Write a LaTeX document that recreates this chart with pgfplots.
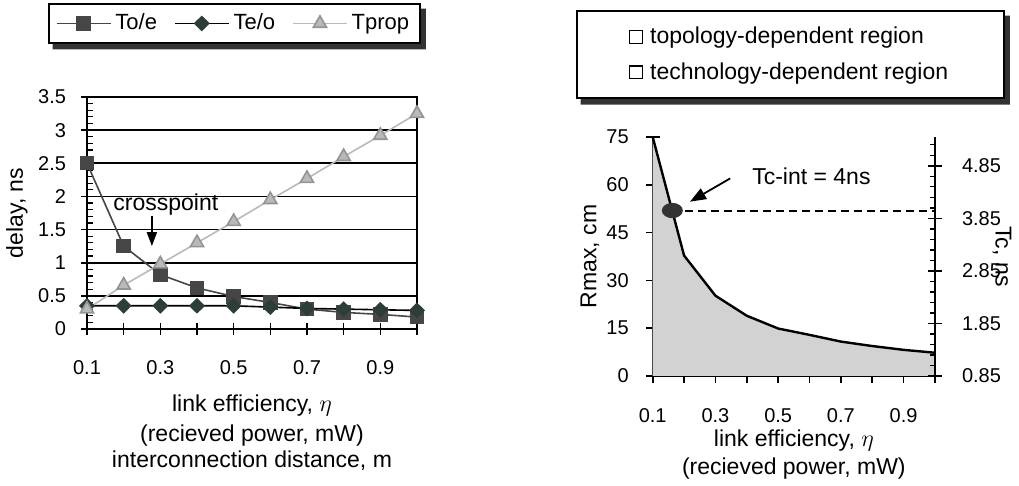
\documentclass[border=0pt]{standalone}
\usepackage{fontspec}
\setmainfont{Liberation Sans}
\usepackage{pgfplots}
\usepackage{pgfplotstable}
\pgfplotsset{compat=1.18}
\usetikzlibrary{arrows.meta}

\definecolor{oeDark}{RGB}{70,70,70}
\definecolor{eoDark}{RGB}{45,62,55}
\definecolor{propGray}{RGB}{185,185,185}
\definecolor{regionGray}{RGB}{210,210,210}

\newcommand{\labfont}{\fontsize{11.5}{13.5}\selectfont}
\newcommand{\tickfont}{\fontsize{10}{12}\selectfont}

% delay components versus link efficiency
\pgfplotstableread{
eta   Toe   Teo   Tprop
0.1   2.50  0.35  0.30
0.2   1.25  0.35  0.66
0.3   0.82  0.35  0.98
0.4   0.62  0.35  1.30
0.5   0.49  0.35  1.62
0.6   0.40  0.33  1.95
0.7   0.30  0.31  2.27
0.8   0.25  0.30  2.60
0.9   0.22  0.29  2.92
1.0   0.18  0.28  3.25
}\delaydata

% maximum interconnect length versus link efficiency
\pgfplotstableread{
eta   Rmax
0.1   75.0
0.2   37.8
0.3   25.2
0.4   18.9
0.5   14.9
0.6   12.9
0.7   10.8
0.8   9.4
0.9   8.2
1.0   7.3
}\rmaxdata

\pgfplotsset{
  chartbase/.style={
    scale only axis,
    axis line style={line width=0.9pt},
    every tick/.style={black,line width=0.8pt},
    tick label style={font=\tickfont},
    /pgf/number format/assume math mode=true,
    clip=false,
  },
  framebox/.style={draw=black, line width=0.9pt, fill=white},
}

% solid shadow along the right and bottom edges of a named box
\newcommand{\boxshadow}[1]{%
  \fill[black!80]
    ([xshift=2.4pt]#1.south west) -- ++(0,-2.8pt)
    -- ([xshift=2.4pt,yshift=-2.8pt]#1.south east)
    -- ([xshift=2.4pt,yshift=-2.8pt]#1.north east)
    -- ([yshift=-2.8pt]#1.north east)
    -- (#1.south east) -- cycle;}

\begin{document}
\begin{tikzpicture}
\path[use as bounding box] (0,0) rectangle (509.5pt,243pt);

% ---------------- left: delay ----------------
\begin{axis}[
  chartbase,
  at={(43.5pt,78.5pt)}, anchor=south west,
  width=165pt, height=116pt,
  xmin=0.1, xmax=1.0, ymin=0, ymax=3.5,
  xtick={0.1,0.2,0.3,0.4,0.5,0.6,0.7,0.8,0.9,1.0},
  xticklabels={0.1,,0.3,,0.5,,0.7,,0.9,},
  ytick={0,0.5,1,1.5,2,2.5,3,3.5},
  yticklabels={0,0.5,1,1.5,2,2.5,3,3.5},
  minor y tick num=4,
  xtick pos=left, ytick pos=left,
  tick align=center,
  major tick length=6pt, minor tick length=3pt,
  every minor tick/.append style={xshift=1.5pt, line width=0.6pt},
  xticklabel style={anchor=base, yshift=-20pt},
  yticklabel style={anchor=east, xshift=-4pt},
  ymajorgrids, major grid style={black, line width=0.9pt},
  legend columns=3,
  legend style={framebox, name=legL, at={(0.447,1.317)}, anchor=center,
    font=\fontsize{11}{13}\selectfont, inner xsep=3.5pt, inner ysep=3pt,
    /tikz/every even column/.append style={column sep=6.5pt}},
  legend image code/.code={
    \draw[mark repeat=2,mark phase=2,#1]
      plot coordinates {(0pt,0pt) (13.5pt,0pt) (27pt,0pt)};
  },
]
\addplot[oeDark, line width=0.8pt, mark=square*, mark size=3.2pt,
  mark options={solid, fill=oeDark, draw=oeDark}]
  table[x=eta, y=Toe]{\delaydata};
\addlegendentry{To/e}
\addplot[black, line width=0.8pt, mark=diamond*, mark size=3.4pt,
  mark options={solid, xscale=1.35, fill=eoDark, draw=eoDark}]
  table[x=eta, y=Teo]{\delaydata};
\addlegendentry{Te/o}
\addplot[propGray, line width=0.8pt, mark=triangle*, mark size=3.8pt,
  mark options={solid, fill=propGray, draw=propGray!80!black}]
  table[x=eta, y=Tprop]{\delaydata};
\addlegendentry{Tprop}

\node[font=\labfont, anchor=base] at (axis cs:0.315,1.785) {crosspoint};
\draw[-{Triangle[length=7pt,width=5pt]}, line width=0.8pt]
  (axis cs:0.277,1.70) -- (axis cs:0.277,1.25);

\node[font=\labfont, rotate=90, anchor=center, yshift=35pt] at (rel axis cs:0,0.5) {delay, ns};
\node[font=\labfont, anchor=base, yshift=-41.5pt] at (rel axis cs:0.5,0) {link efficiency, $\eta$};
\node[font=\labfont, anchor=base, yshift=-56.5pt] at (rel axis cs:0.5,0) {(recieved power, mW)};
\node[font=\labfont, anchor=base, yshift=-69.5pt] at (rel axis cs:0.5,0) {interconnection distance, m};
\end{axis}
\boxshadow{legL}

% ---------------- right: Rmax (left scale) ----------------
\begin{axis}[
  chartbase,
  at={(326.35pt,55pt)}, anchor=south west,
  width=141.15pt, height=119.5pt,
  xmin=0.1, xmax=1.0, ymin=0, ymax=75,
  axis x line*=bottom, axis y line*=left,
  xtick={0.1,0.2,0.3,0.4,0.5,0.6,0.7,0.8,0.9,1.0},
  xticklabels={0.1,,0.3,,0.5,,0.7,,0.9,},
  ytick={0,15,30,45,60,75},
  minor ytick={5,10,20,25,35,40,50,55,65,70},
  tick align=center,
  major tick length=7pt, minor tick length=2.6pt,
  every minor tick/.append style={xshift=1.3pt, line width=0.6pt},
  xticklabel style={anchor=base, yshift=-20pt},
  yticklabel style={anchor=east, xshift=-5pt},
  legend style={framebox, name=legR, at={(0.488,1.345)}, anchor=center,
    font=\labfont, inner xsep=26pt, inner ysep=6pt, row sep=4pt},
  legend cell align=left,
]
\addplot[draw=none, fill=regionGray, forget plot]
  table[x=eta, y=Rmax]{\rmaxdata} \closedcycle;
\addplot[black, line width=1.2pt, forget plot]
  table[x=eta, y=Rmax]{\rmaxdata};

\addlegendimage{legend image code/.code={
  \draw[black, fill=white, line width=0.6pt] (0pt,-3.2pt) rectangle (6.4pt,3.2pt);
  \path (8pt,0pt);}}
\addlegendentry{topology-dependent region}
\addlegendimage{legend image code/.code={
  \draw[black, fill=white, line width=0.6pt] (0pt,-3.2pt) rectangle (6.4pt,3.2pt);
  \path (8pt,0pt);}}
\addlegendentry{technology-dependent region}

\node[font=\labfont, anchor=base west] at (axis cs:0.395,60) {Tc-int = 4ns};
\draw[-{Triangle[length=8pt,width=6pt]}, line width=0.9pt]
  (axis cs:0.347,62) -- (axis cs:0.219,54.7);

\node[font=\labfont, rotate=90, anchor=center, yshift=31.4pt] at (rel axis cs:0,0.5) {Rmax, cm};
\node[font=\labfont, anchor=base, yshift=-35.5pt] at (rel axis cs:0.5,0) {link efficiency, $\eta$};
\node[font=\labfont, anchor=base, yshift=-49.5pt] at (rel axis cs:0.5,0) {(recieved power, mW)};
\end{axis}
\boxshadow{legR}

% ---------------- right: Tc (right scale) ----------------
\begin{axis}[
  chartbase,
  at={(326.35pt,55pt)}, anchor=south west,
  width=141.15pt, height=119.5pt,
  xmin=0.1, xmax=1.0, ymin=0.85, ymax=5.4,
  axis x line=none, axis y line*=right,
  ytick={0.85,1.85,2.85,3.85,4.85},
  yticklabels={0.85,1.85,2.85,3.85,4.85},
  minor ytick={1.05,1.25,1.45,1.65,2.05,2.25,2.45,2.65,3.05,3.25,3.45,3.65,
               4.05,4.25,4.45,4.65,5.05,5.25},
  tick align=center,
  major tick length=7pt, minor tick length=2.6pt,
  every minor tick/.append style={xshift=-1.3pt, line width=0.6pt},
  yticklabel style={anchor=west, xshift=6.5pt},
]
\addplot[black, line width=1pt, dash pattern=on 4pt off 2.5pt]
  coordinates {(0.1626,4) (1.0,4)};
\addplot[only marks, mark=*, mark size=3.6pt,
  mark options={xscale=1.4, fill=black!80, draw=black!80}]
  coordinates {(0.1626,4)};
\node[font=\labfont, rotate=-90, anchor=center, yshift=33.5pt] at (rel axis cs:1,0.5) {Tc, ns};
\end{axis}
\end{tikzpicture}
\end{document}
